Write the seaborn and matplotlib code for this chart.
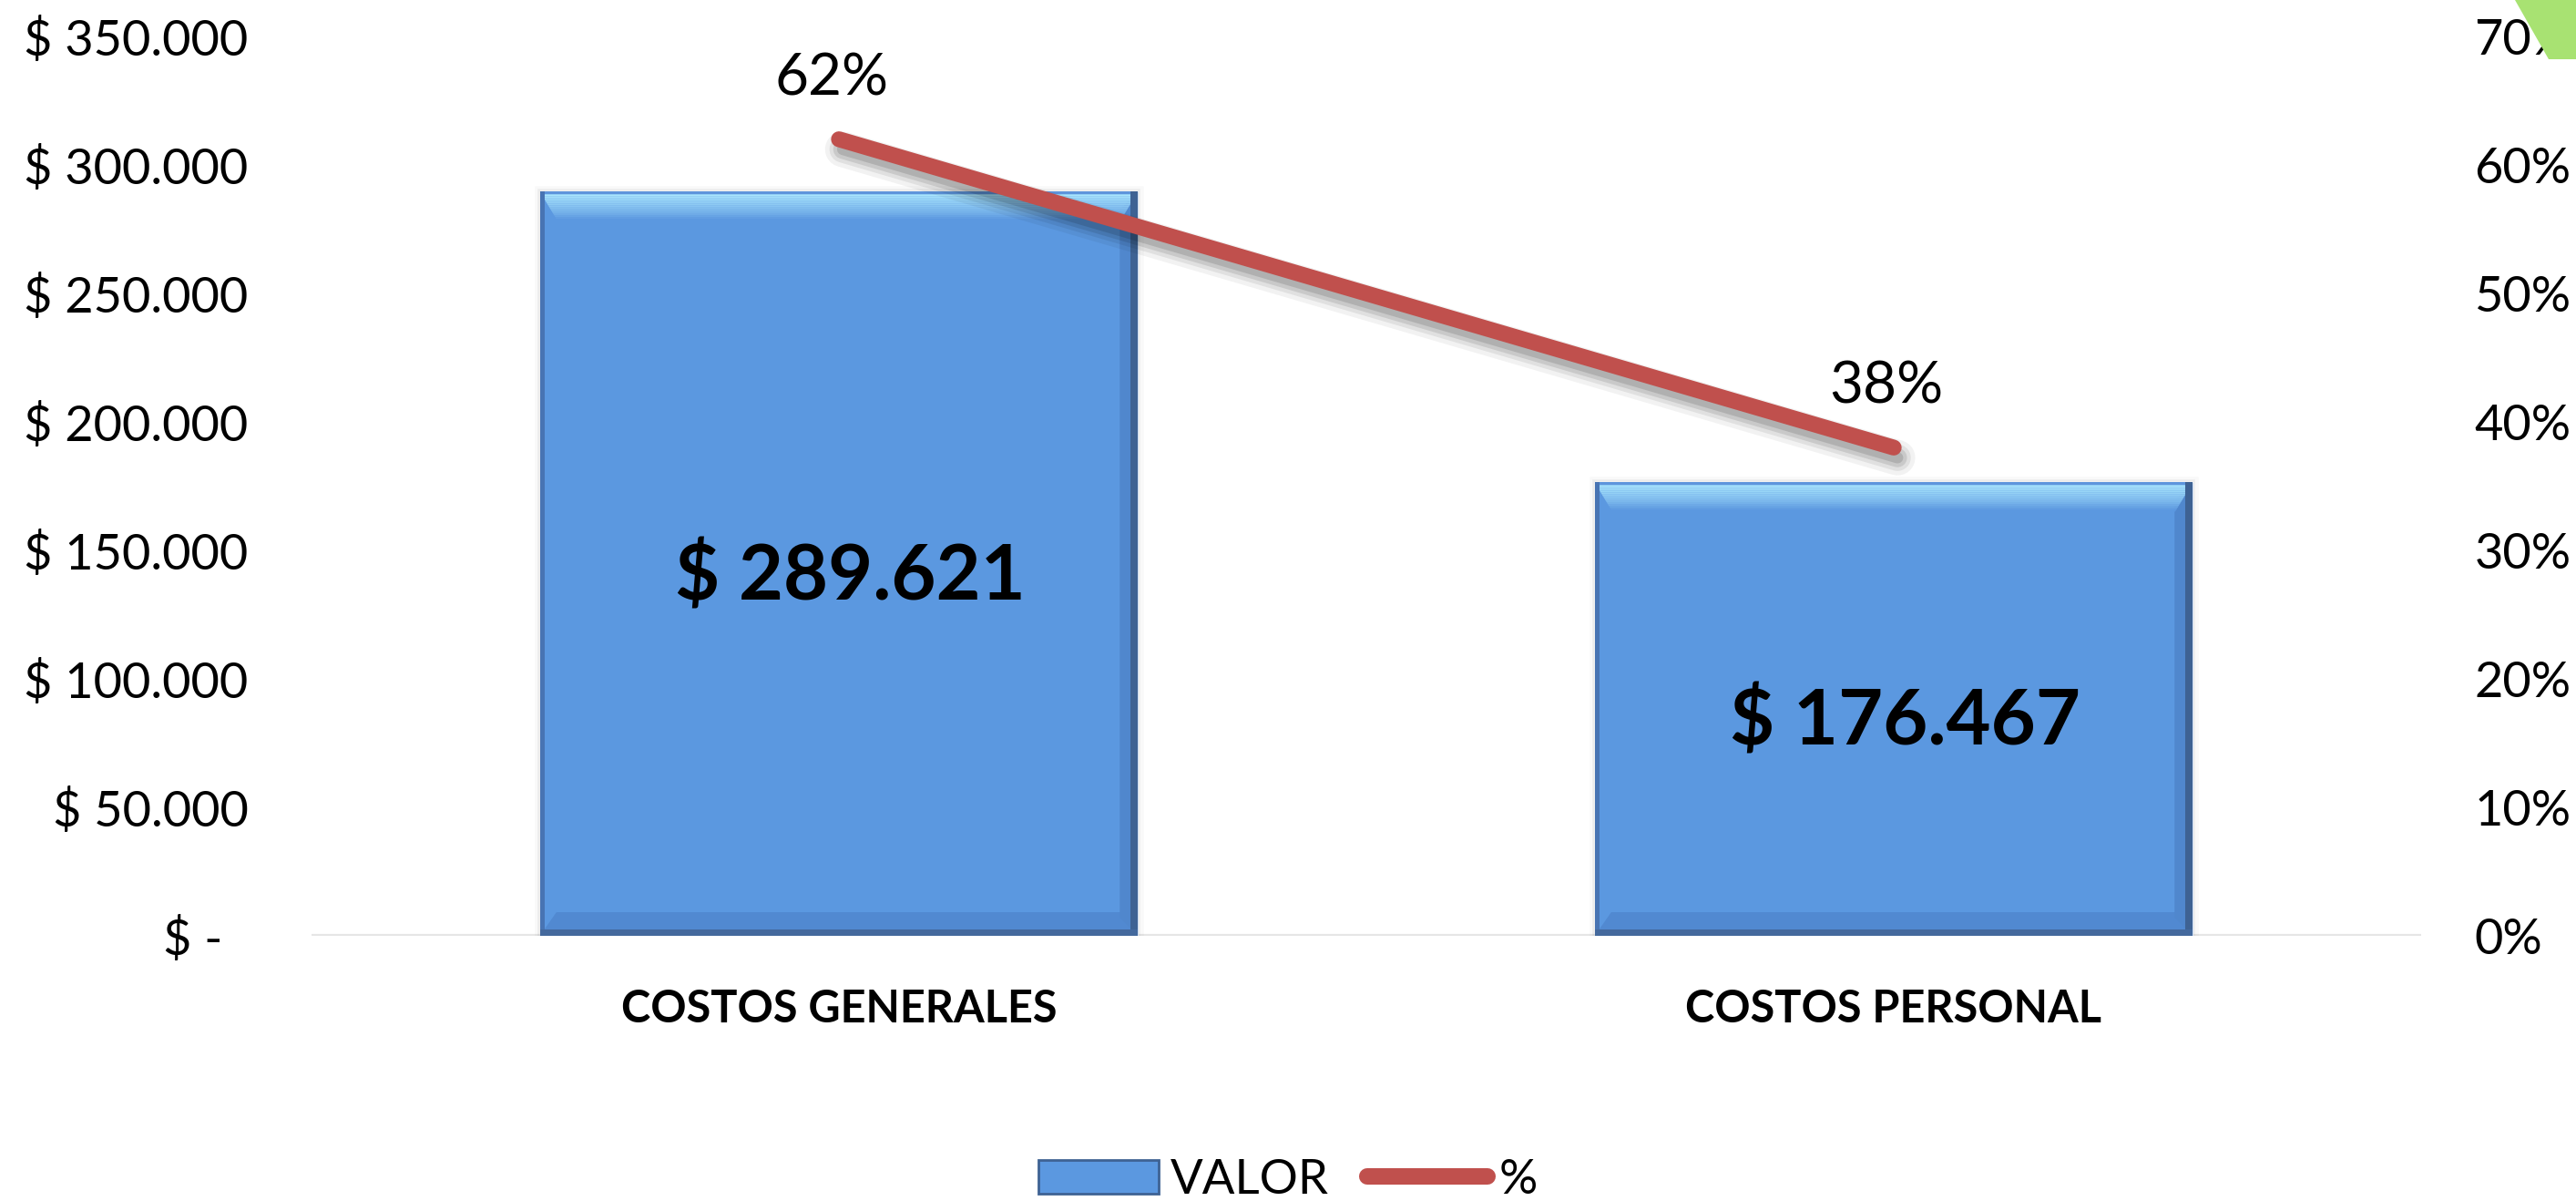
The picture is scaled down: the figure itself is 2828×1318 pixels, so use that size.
import numpy as np
import pandas as pd
import matplotlib
matplotlib.use("Agg")
import matplotlib.pyplot as plt
import matplotlib.patheffects as pe
from matplotlib.patches import Polygon, Patch
from matplotlib.lines import Line2D
from matplotlib.colors import to_rgb
import seaborn as sns

categorias = ["COSTOS GENERALES", "COSTOS PERSONAL"]
valores = [289621, 176467]
porcentajes = [0.62, 0.38]

y_ticks = np.arange(0, 350001, 50000)
pct_ticks = np.arange(0, 0.71, 0.1)

BAR_COLOR = "#5B98E0"
LINE_COLOR = "#C0504D"

sns.set_style("white")
plt.rcParams["font.family"] = ["Lato", "DejaVu Sans"]
plt.rcParams["text.color"] = "black"

W, H = 2828, 1318
fig = plt.figure(figsize=(W / 100, H / 100), dpi=100)
ax = fig.add_axes([342 / W, 1 - 1027 / H, 2316 / W, 987 / H])

df = pd.DataFrame({"categoria": categorias, "valor": valores})
sns.barplot(data=df, x="categoria", y="valor", color=BAR_COLOR, saturation=1,
            width=0.567, errorbar=None, ax=ax, zorder=2)
ax.set_xlim(-0.5, 1.5)
ax.set_ylim(0, 350000)


def mix(c1, c2, t):
    return tuple(np.array(to_rgb(c1)) * (1 - t) + np.array(to_rgb(c2)) * t)


# excel style bevel on the bars, sizes in pixels
sx = 2.0 / ax.bbox.width
sy = 350000 / ax.bbox.height
for bar in list(ax.patches):
    x0 = bar.get_x()
    x1 = x0 + bar.get_width()
    top = bar.get_height()
    bar.set_path_effects([pe.Stroke(linewidth=9, foreground="k", alpha=0.025),
                          pe.Stroke(linewidth=4, foreground="k", alpha=0.05),
                          pe.Normal()])
    # darker bottom bevel
    d = 26
    ax.fill([x0, x1, x1 - d * 0.7 * sx, x0 + d * 0.7 * sx],
            [0, 0, d * sy, d * sy], color="#5189D1", lw=0, zorder=2.1)
    # darker right inner band
    ax.fill([x1 - 20 * sx, x1, x1, x1 - 20 * sx],
            [20 * sy, 0, top, top - 20 * sy], color="#5087CD", lw=0, zorder=2.1)
    # top highlight gradient
    n = 14
    depth = 32
    for i in range(n):
        a = 3 + (depth - 3) * i / n
        b = 3 + (depth - 3) * (i + 1) / n
        col = mix("#A9E5FD", BAR_COLOR, (i / (n - 1)) ** 1.1)
        ax.fill([x0 + a * 0.6 * sx, x1 - a * 0.6 * sx, x1 - b * 0.6 * sx, x0 + b * 0.6 * sx],
                [top - a * sy, top - a * sy, top - b * sy, top - b * sy],
                color=col, lw=0, zorder=2.2)
    ax.fill([x0, x1, x1, x0], [top, top, top - 3 * sy, top - 3 * sy],
            color="#5E95DC", lw=0, zorder=2.3)
    # edges
    ax.fill([x0, x0 + 5 * sx, x0 + 5 * sx, x0], [0, 0, top, top],
            color="#4874B3", lw=0, zorder=2.3)
    ax.fill([x1 - 8 * sx, x1, x1, x1 - 8 * sx], [0, 0, top, top],
            color="#3E6293", lw=0, zorder=2.3)
    ax.fill([x0, x1, x1, x0], [0, 0, 7 * sy, 7 * sy],
            color="#44699D", lw=0, zorder=2.3)

# value labels inside the bars
for bar, v in zip(list(ax.patches), valores):
    txt = "$ " + f"{v:,.0f}".replace(",", ".")
    ax.annotate(txt, (bar.get_x() + bar.get_width() / 2, bar.get_height() / 2),
                xytext=(9, -10), textcoords="offset points", ha="center", va="center",
                fontsize=61, fontweight="bold", color="black", zorder=4)

ax.axhline(0, color="#E6E6E6", lw=3, zorder=1)

ax.set_yticks(y_ticks)
ax.set_yticklabels(["$ -  " if t == 0 else "$ " + f"{t:,.0f}".replace(",", ".") for t in y_ticks])
ax.set_xticks(range(len(categorias)))
ax.set_xticklabels(categorias, fontweight="bold")
ax.tick_params(axis="y", length=0, pad=50, labelsize=39, labelcolor="black")
ax.tick_params(axis="x", length=0, pad=42, labelsize=35, labelcolor="black")
ax.set_xlabel("")
ax.set_ylabel("")
for s in ax.spines.values():
    s.set_visible(False)

# percentage line on the secondary axis
ax2 = ax.twinx()
sns.lineplot(x=np.arange(len(categorias)), y=porcentajes, ax=ax2, color=LINE_COLOR,
             lw=12.5, solid_capstyle="round", legend=False, zorder=5)
ax2.lines[0].set_path_effects([
    pe.SimpleLineShadow(offset=(3, -8), shadow_color="k", alpha=0.05, linewidth=28),
    pe.SimpleLineShadow(offset=(3, -8), shadow_color="k", alpha=0.07, linewidth=21),
    pe.SimpleLineShadow(offset=(3, -8), shadow_color="k", alpha=0.10, linewidth=15),
    pe.SimpleLineShadow(offset=(3, -8), shadow_color="k", alpha=0.12, linewidth=9),
    pe.Normal()])
ax.set_xlim(-0.5, 1.5)
ax2.set_ylim(0, 0.7)
ax2.set_yticks(pct_ticks)
ax2.set_yticklabels([f"{t:.0%}" for t in pct_ticks])
ax2.tick_params(axis="y", length=0, pad=42, labelsize=39, labelcolor="black")
ax2.set_ylabel("")
for s in ax2.spines.values():
    s.set_visible(False)

for i, p in enumerate(porcentajes):
    ax2.annotate(f"{p:.0%}", (i, p), xytext=(-6, 27), textcoords="offset points",
                 ha="center", va="bottom", fontsize=46, color="black")

handles = [Patch(facecolor=BAR_COLOR, edgecolor="#3E6293", linewidth=2),
           Line2D([0], [0], color=LINE_COLOR, lw=13, solid_capstyle="round")]
fig.legend(handles, ["VALOR", "%"], loc="center", bbox_to_anchor=(0.5, 1 - 1295 / H),
           ncol=2, frameon=False, fontsize=38, handlelength=2.5, handletextpad=0.25,
           columnspacing=0.8)

# green shape cut off in the top right corner
fig.add_artist(Polygon([[2761 / W, 1], [1, 1], [1, 1 - 65 / H], [2798 / W, 1 - 65 / H]],
                       closed=True, transform=fig.transFigure, color="#A8E272", lw=0, zorder=10))

fig.savefig("out.png", dpi=100)
